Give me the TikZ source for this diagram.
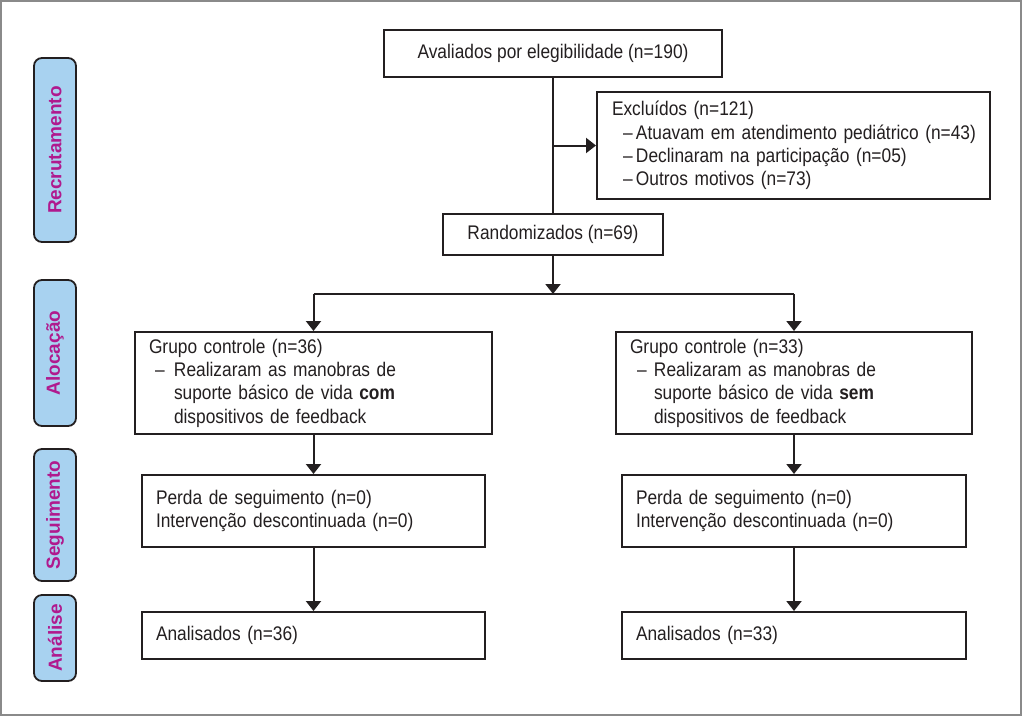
\documentclass[tikz,border=0pt]{standalone}
\usepackage{fontspec}
\setmainfont{Liberation Sans}
\newfontfamily\boxfont[FakeStretch=0.88]{Liberation Sans}
\usetikzlibrary{arrows.meta}
\definecolor{ink}{HTML}{231F20}
\definecolor{lblfill}{HTML}{A8D2F0}
\definecolor{lbltext}{HTML}{B0198E}
\definecolor{framegray}{HTML}{8A8A8A}
\begin{document}
\begin{tikzpicture}[x=1pt,y=-1pt,
  box/.style={draw=ink, line width=2pt, rectangle, inner ysep=0pt, inner xsep=0pt,
    font=\boxfont\fontsize{19.7}{23.3}\selectfont, text=ink},
  lbox/.style={box, align=left},
  side/.style={rotate=90, draw=ink, fill=lblfill, line width=1.8pt, rounded corners=8pt,
    minimum height=42pt, inner sep=0pt, font=\fontsize{19}{19}\selectfont\bfseries, text=lbltext},
  conn/.style={draw=ink, line width=2pt},
  arr/.style={conn, -{Triangle[width=15pt,length=10pt]}}
]
\useasboundingbox (0,0) rectangle (1024,724);
\fill[white] (0,0) rectangle (1024,724);
\draw[framegray, line width=2pt] (1,1) rectangle (1021,715);

% side labels
\node[side, minimum width=184pt] (l1) at (55,150) {Recrutamento};
\node[side, minimum width=146pt] (l2) at (55,353) {Alocação};
\node[side, minimum width=132pt] (l3) at (55,515) {Seguimento};
\node[side, minimum width=86pt] (l4) at (55,638) {Análise};

% boxes
\node[box, minimum width=338pt, minimum height=47pt] (top) at (553,53.5) {Avaliados por elegibilidade (n=190)};
\node[lbox, minimum height=107pt, inner xsep=15pt, text width=363pt] (excl) at (793.5,145.5)
 {Excluídos (n=121)\\
  \hspace*{11pt}\makebox[13pt][l]{–}\mbox{Atuavam em atendimento pediátrico (n=43)}\\
  \hspace*{11pt}\makebox[13pt][l]{–}Declinaram na participação (n=05)\\
  \hspace*{11pt}\makebox[13pt][l]{–}Outros motivos (n=73)};
\node[box, minimum width=220pt, minimum height=41pt] (rand) at (553,234.5) {Randomizados (n=69)};

\node[lbox, minimum height=102pt, inner xsep=14pt, text width=329pt] (g1) at (313.5,383)
 {Grupo controle (n=36)\\
  \hspace*{6pt}\makebox[19pt][l]{–}Realizaram as manobras de\\
  \hspace*{25pt}suporte básico de vida \textbf{com}\\
  \hspace*{25pt}dispositivos de feedback};
\node[lbox, minimum height=102pt, inner xsep=14pt, text width=328pt] (g2) at (794,383)
 {Grupo controle (n=33)\\
  \hspace*{7pt}\makebox[17pt][l]{–}Realizaram as manobras de\\
  \hspace*{24pt}suporte básico de vida \textbf{sem}\\
  \hspace*{24pt}dispositivos de feedback};

\node[lbox, minimum height=72pt, inner xsep=14pt, text width=315pt] (s1) at (313.5,511)
 {Perda de seguimento (n=0)\\Intervenção descontinuada (n=0)};
\node[lbox, minimum height=72pt, inner xsep=14pt, text width=316pt] (s2) at (794,511)
 {Perda de seguimento (n=0)\\Intervenção descontinuada (n=0)};

\node[lbox, minimum height=47pt, inner xsep=14pt, text width=315pt] (a1) at (313.5,635.5)
 {Analisados (n=36)};
\node[lbox, minimum height=47pt, inner xsep=14pt, text width=316pt] (a2) at (794,635.5)
 {Analisados (n=33)};

% connectors
\coordinate (j1) at (top.south |- excl.west);
\coordinate (split) at (553,294);
\coordinate (sl) at (g1.north |- split);
\coordinate (sr) at (g2.north |- split);
\draw[conn] (top.south) -- (rand.north);
\draw[arr] (j1) -- (excl.west);
\draw[arr] (rand.south) -- (split);
\draw[conn] (sl) -- (sr);
\draw[arr] (sl) -- (g1.north);
\draw[arr] (sr) -- (g2.north);
\draw[arr] (g1.south) -- (s1.north);
\draw[arr] (g2.south) -- (s2.north);
\draw[arr] (s1.south) -- (a1.north);
\draw[arr] (s2.south) -- (a2.north);
\end{tikzpicture}
\end{document}
